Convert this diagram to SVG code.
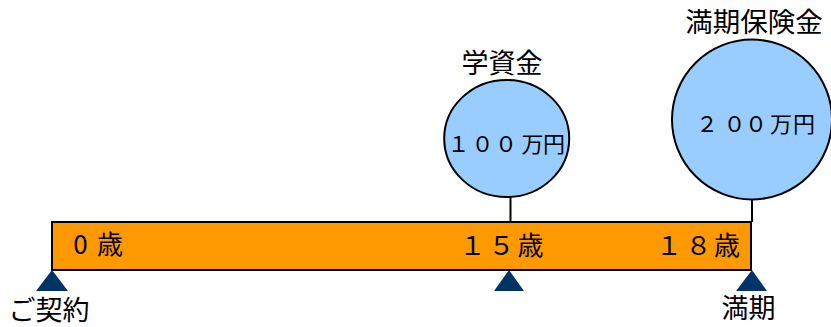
<svg xmlns="http://www.w3.org/2000/svg" width="831" height="327" viewBox="0 0 831 327">
<style>
text{font-family:"Noto Sans CJK JP","Noto Sans",sans-serif;fill:#000}
.lbl{font-size:27px}
.age{font-size:26px}
.amt{font-size:22px}
.bal{fill:#99CCFF;stroke:#000;stroke-width:2}
.mk{fill:#003366}
.ln{stroke:#000;stroke-width:2;fill:none}
</style>
<rect width="831" height="327" fill="#fff"/>
<g id="connectors">
<line class="ln" x1="510.5" y1="197" x2="510.5" y2="222"/>
<line class="ln" x1="752" y1="199" x2="752" y2="222"/>
</g>
<g id="bar">
<rect x="52" y="222" width="699" height="48" fill="#FF9900" stroke="#000" stroke-width="2"/>
<text class="age" x="80.5 110" y="254" text-anchor="middle">0歳</text>
<text class="age" x="472.5 501.5 530.5" y="255" text-anchor="middle">１５歳</text>
<text class="age" x="669 698.5 727" y="255" text-anchor="middle">１８歳</text>
</g>
<g id="start">
<polygon class="mk" points="52,270 36,291 68,291"/>
<text class="lbl" x="49" y="320" text-anchor="middle">ご契約</text>
</g>
<g id="mid">
<polygon class="mk" points="509,270 494,291 524,291"/>
</g>
<g id="end">
<polygon class="mk" points="752,270 736,291 767,291"/>
<text class="lbl" x="748.5" y="318" text-anchor="middle">満期</text>
</g>
<g id="education">
<ellipse class="bal" cx="506.7" cy="138.5" rx="62.5" ry="58.5"/>
<text class="lbl" x="502" y="73" text-anchor="middle">学資金</text>
<text class="amt" x="458.5 482.5 506 532.5 554" y="152" text-anchor="middle">１００万円</text>
</g>
<g id="maturity">
<circle class="bal" cx="752" cy="119.5" r="80"/>
<text class="lbl" x="754" y="32" text-anchor="middle" style="font-size:27.5px">満期保険金</text>
<text class="amt" x="707 734.5 756 781 804" y="132" text-anchor="middle">２００万円</text>
</g>
</svg>
